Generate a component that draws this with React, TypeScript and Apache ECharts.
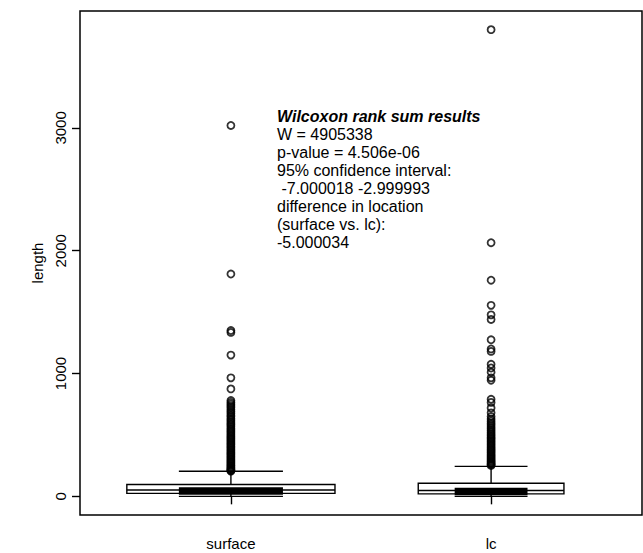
import React, { useEffect, useRef } from 'react';
import * as echarts from 'echarts';

const categories = ['surface', 'lc'];
const categoryPositions = [1, 2];
// [lower whisker, Q1, median, Q3, upper whisker]
const surfaceStats = [0, 24, 52, 96, 204];
const lcStats = [0, 20, 47, 107, 244];
const surfaceOutliers = [
  3020, 1810, 1350, 1335, 1150, 965, 875, 780, 765, 750, 735, 722, 705, 690, 676, 660, 648, 632, 620,
  605, 592, 580, 566, 552, 540, 527, 515, 502, 490, 478, 466, 455, 443, 431, 420, 408, 397, 385, 374,
  362, 351, 340, 329, 318, 307, 296, 285, 275, 265, 255, 246, 237, 229, 221, 214, 208, 205,
];
const lcOutliers = [
  3800, 2065, 1760, 1555, 1478, 1440, 1275, 1200, 1180, 1075, 1045, 1010, 965, 945, 790, 765, 720, 680,
  650, 630, 612, 595, 580, 565, 550, 536, 522, 508, 495, 482, 470, 458, 446, 434, 422, 410, 398, 386,
  375, 364, 352, 341, 330, 320, 310, 300, 290, 281, 272, 264, 257, 251,
];
const yTickValues = [0, 1000, 2000, 3000];
const yTickLabels = ['0', '1000', '2000', '3000'];
const yAxisName = 'length';
const wilcoxTitle = 'Wilcoxon rank sum results';
const wilcoxLines = [
  'W = 4905338',
  'p-value = 4.506e-06',
  '95% confidence interval:',
  ' -7.000018 -2.999993',
  'difference in location',
  '(surface vs. lc):',
  '-5.000034',
];

// style constants
const BOX_WIDTHS = [0.8, 0.56];
const FONT = '"Liberation Sans", Arial, Helvetica, sans-serif';

export default function App() {
  const ref = useRef<HTMLDivElement>(null);
  useEffect(() => {
    document.body.style.margin = '0';
    const chart = echarts.init(ref.current!, undefined, { renderer: 'svg' });
    const statsList = [surfaceStats, lcStats];
    const boxData = statsList.map((s, i) => [categoryPositions[i], ...s]);
    const textLeft = 277;
    const titleY = 117;
    const lineGap = 18;
    const graphics: any[] = [
      {
        type: 'text',
        left: textLeft,
        top: titleY - 9,
        style: {
          text: wilcoxTitle,
          fontFamily: FONT,
          fontSize: 16,
          fontWeight: 'bold',
          fontStyle: 'italic',
          fill: '#000',
        },
      },
      ...wilcoxLines.map((t, i) => ({
        type: 'text',
        left: textLeft,
        top: titleY - 9 + lineGap * (i + 1),
        style: { text: t, fontFamily: FONT, fontSize: 16, fill: '#000' },
      })),
    ];
    chart.setOption({
      animation: false,
      backgroundColor: '#fff',
      grid: {
        left: 80,
        top: 11,
        right: 1,
        bottom: 38,
        show: true,
        borderColor: '#000',
        borderWidth: 1.5,
        backgroundColor: 'transparent',
      },
      xAxis: {
        type: 'value',
        min: 0.42,
        max: 2.58,
        axisLine: { show: false },
        splitLine: { show: false },
        axisTick: {
          show: true,
          length: 8,
          customValues: categoryPositions,
          lineStyle: { color: '#000', width: 1.4 },
        },
        axisLabel: {
          customValues: categoryPositions,
          formatter: (v: number) => categories[categoryPositions.indexOf(Math.round(v))] ?? '',
          margin: 21,
          color: '#000',
          fontSize: 15,
          fontFamily: FONT,
        },
      },
      yAxis: {
        type: 'value',
        min: -152,
        max: 3952,
        name: yAxisName,
        nameLocation: 'middle',
        nameRotate: 90,
        nameGap: 35,
        nameTextStyle: { color: '#000', fontSize: 15, fontFamily: FONT },
        axisLine: { show: false },
        splitLine: { show: false },
        axisTick: {
          show: true,
          length: 8,
          customValues: yTickValues,
          lineStyle: { color: '#000', width: 1.4 },
        },
        axisLabel: {
          customValues: yTickValues,
          formatter: (v: number) => {
            const i = yTickValues.indexOf(Math.round(v));
            return i >= 0 ? yTickLabels[i] : '';
          },
          rotate: 90,
          margin: 12,
          color: '#000',
          fontSize: 15,
          fontFamily: FONT,
        },
      },
      graphic: graphics,
      series: [
        {
          type: 'custom',
          data: boxData,
          encode: { x: 0, y: [1, 2, 3, 4, 5] },
          z: 2,
          renderItem: (params: any, api: any) => {
            const x = api.value(0);
            const lw = api.value(1);
            const q1 = api.value(2);
            const med = api.value(3);
            const q3 = api.value(4);
            const uw = api.value(5);
            const bw = BOX_WIDTHS[params.dataIndex];
            const pl = api.coord([x - bw / 2, q3]);
            const pr = api.coord([x + bw / 2, q1]);
            const cx = api.coord([x, med])[0];
            const half = (pr[0] - pl[0]) / 2;
            const y = (v: number) => api.coord([x, v])[1];
            const st = { stroke: '#000', lineWidth: 1.4, fill: 'none' };
            return {
              type: 'group',
              children: [
                {
                  type: 'rect',
                  shape: { x: pl[0], y: pl[1], width: pr[0] - pl[0], height: pr[1] - pl[1] },
                  style: { fill: '#fff', stroke: '#000', lineWidth: 1.4 },
                },
                { type: 'line', shape: { x1: cx, y1: y(q3), x2: cx, y2: y(uw) }, style: st },
                { type: 'line', shape: { x1: cx, y1: y(q1), x2: cx, y2: y(lw) }, style: st },
                {
                  type: 'line',
                  shape: { x1: cx - half / 2, y1: y(uw), x2: cx + half / 2, y2: y(uw) },
                  style: st,
                },
                {
                  type: 'line',
                  shape: { x1: cx - half / 2, y1: y(lw), x2: cx + half / 2, y2: y(lw) },
                  style: st,
                },
                {
                  type: 'line',
                  shape: { x1: pl[0], y1: y(med), x2: pr[0], y2: y(med) },
                  style: st,
                },
                {
                  type: 'line',
                  shape: { x1: cx - half / 2, y1: y(med) + 1, x2: cx + half / 2, y2: y(med) + 1 },
                  style: { stroke: '#000', lineWidth: 7.5, fill: 'none' },
                },
              ],
            };
          },
        },
        {
          type: 'scatter',
          z: 3,
          data: surfaceOutliers.map((v) => [categoryPositions[0], v]),
          symbol: 'circle',
          symbolSize: 7,
          itemStyle: { color: 'rgba(0,0,0,0)', borderColor: '#000', borderWidth: 1.8 },
        },
        {
          type: 'scatter',
          z: 3,
          data: lcOutliers.map((v) => [categoryPositions[1], v]),
          symbol: 'circle',
          symbolSize: 7,
          itemStyle: { color: 'rgba(0,0,0,0)', borderColor: '#000', borderWidth: 1.8 },
        },
      ],
    });
    return () => chart.dispose();
  }, []);
  return <div ref={ref} style={{ width: 643, height: 553 }} />;
}
